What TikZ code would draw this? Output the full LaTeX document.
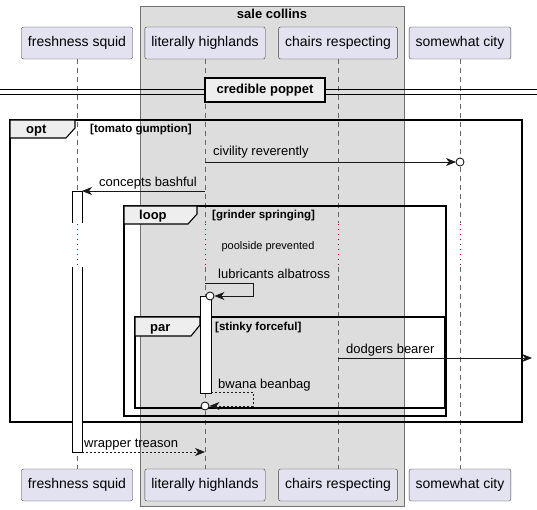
\documentclass[tikz,border=0pt]{standalone}
\usepackage{fontspec}
\setmainfont{Liberation Sans}
\usetikzlibrary{arrows.meta}
\definecolor{partfill}{HTML}{E2E2F0}
\definecolor{groupfill}{HTML}{DDDDDD}
\definecolor{tabfill}{HTML}{EEEEEE}
\definecolor{delayred}{HTML}{A80036}
\begin{document}
\begin{tikzpicture}[x=1pt, y=-1pt,
	part/.style={draw=black!75, fill=partfill, rounded corners=2pt, minimum height=32pt, inner xsep=6.5pt, font=\fontsize{14}{16}\selectfont},
	txt/.style={inner sep=0pt, anchor=base west, font=\fontsize{13}{15}\selectfont},
	bold/.style={inner sep=0pt, anchor=base west, font=\bfseries\fontsize{11.5}{13}\selectfont},
	life/.style={draw=black!60, line width=0.5pt, dash pattern=on 5pt off 4pt},
	pause/.style={draw=delayred, line width=0.8pt, dash pattern=on 0.8pt off 4.2pt},
	frame/.style={draw=black, line width=1.4pt},
	tab/.style={draw=black, fill=tabfill, line width=1.1pt},
	bar/.style={draw=black, fill=white, line width=0.9pt},
	call/.style={draw=black!90, line width=0.9pt, -{Stealth[length=10pt, width=8pt, inset=3pt]}},
	back/.style={call, dash pattern=on 2pt off 2pt},
	lost/.style={circle, draw=black!90, fill=white, line width=0.9pt, inner sep=0pt, minimum size=8pt}]
	\useasboundingbox (0,0) rectangle (537,510);
	% box of the group
	\draw[draw=black!55, fill=groupfill, line width=0.8pt] (140,6) rectangle (404,506);
	\node[inner sep=0pt, anchor=base, font=\bfseries\fontsize{13}{15}\selectfont] (sc) at (272,19) {sale collins};
	% lifelines
	\foreach \x in {77,205,338,460} {
		\draw[life] (\x,59) -- (\x,223);
		\draw[pause] (\x,224) -- (\x,266);
		\draw[life] (\x,267) -- (\x,469);
	}
	% participants
	\node[part] (fsT) at (77,43) {freshness squid};
	\node[part] (lhT) at (205,43) {literally highlands};
	\node[part] (crT) at (338,43) {chairs respecting};
	\node[part] (scT) at (460,43) {somewhat city};
	\node[part] (fsB) at (77,485) {freshness squid};
	\node[part] (lhB) at (205,485) {literally highlands};
	\node[part] (crB) at (338,485) {chairs respecting};
	\node[part] (scB) at (460,485) {somewhat city};
	% divider
	\draw[line width=0.9pt] (0,89) -- (537,89);
	\draw[line width=0.9pt] (0,94) -- (537,94);
	\node[draw=black, fill=tabfill, line width=1.3pt, minimum width=120pt, minimum height=24pt, font=\bfseries\fontsize{13}{15}\selectfont] (cp) at (265,90) {credible poppet};
	% frames
	\draw[frame] (10,120) rectangle (522,422);
	\draw[tab] (10,120) -- (75,120) -- (75,128) -- (66,138) -- (10,138) -- cycle;
	\node[bold, font=\bfseries\fontsize{13}{15}\selectfont] (opt) at (26,134) {opt};
	\node[bold] (optg) at (90,133) {[tomato gumption]};
	\draw[frame] (124,206) rectangle (446,416);
	\draw[tab] (124,206) -- (197,206) -- (197,214) -- (188,224) -- (124,224) -- cycle;
	\node[bold, font=\bfseries\fontsize{13}{15}\selectfont] (lp) at (139,220) {loop};
	\node[bold] (lpg) at (212,219) {[grinder springing]};
	\draw[frame] (135,317) rectangle (445,408);
	\draw[tab] (135,317) -- (200,317) -- (200,325) -- (191,336) -- (135,336) -- cycle;
	\node[bold, font=\bfseries\fontsize{13}{15}\selectfont] (pr) at (150,331) {par};
	\node[bold] (prg) at (215,330) {[stinky forceful]};
	% activations
	\fill[white] (72,191) rectangle (82,223);
	\fill[white] (72,267) rectangle (82,452);
	\draw[bar] (72,223) -- (72,191) -- (82,191) -- (82,223);
	\draw[bar] (72,267) -- (72,452) -- (82,452) -- (82,267);
	\draw[bar] (200,296) rectangle (211,393);
	% messages
	\coordinate (m1a) at (205,162);
	\coordinate (m1b) at (456,162);
	\node[lost] (o1) at (460,162) {};
	\draw[call] (m1a) -- (m1b);
	\node[txt] (t1) at (213,156) {civility reverently};
	\coordinate (m2a) at (205,191);
	\coordinate (m2b) at (82,191);
	\draw[call] (m2a) -- (m2b);
	\node[txt, anchor=base east] (t2) at (197,187) {concepts bashful};
	\node[inner sep=0pt, anchor=base, font=\fontsize{11}{13}\selectfont] (t3) at (268,250) {poolside prevented};
	\coordinate (m4a) at (205,283);
	\coordinate (m4b) at (253,283);
	\node[lost] (o4) at (210,296) {};
	\draw[call] (m4a) -- (m4b) |- (o4);
	\node[txt] (t4) at (218,278) {lubricants albatross};
	\coordinate (m5a) at (338,358);
	\coordinate (m5b) at (532,358);
	\draw[call] (m5a) -- (m5b);
	\node[txt] (t5) at (346,353) {dodgers bearer};
	\coordinate (m6a) at (211,392);
	\coordinate (m6b) at (253,392);
	\node[lost] (o6) at (205,406) {};
	\draw[back] (m6a) -- (m6b) |- (o6);
	\node[txt] (t6) at (218,388) {bwana beanbag};
	\coordinate (m7a) at (82,452);
	\coordinate (m7b) at (205,452);
	\draw[back] (m7a) -- (m7b);
	\node[txt] (t7) at (84,447) {wrapper treason};
\end{tikzpicture}
\end{document}
